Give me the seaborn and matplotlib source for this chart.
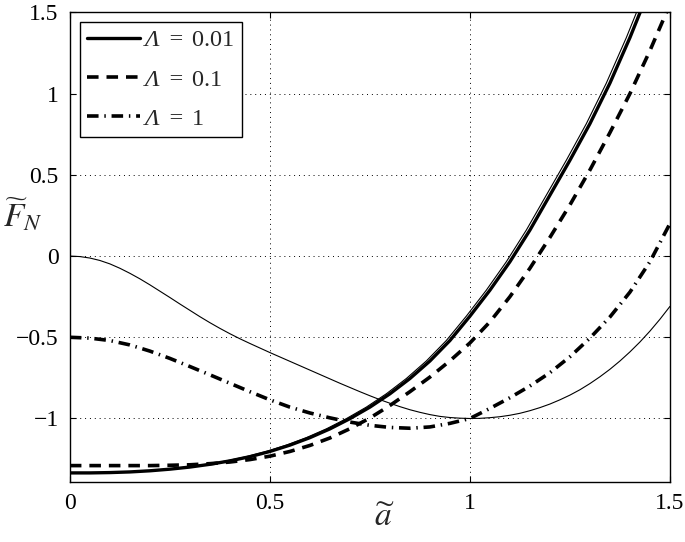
import seaborn as sns
import pandas as pd
import numpy as np
import matplotlib
matplotlib.use("Agg")
import matplotlib.pyplot as plt

sns.set_style("white")
plt.rcParams['font.family'] = ['Liberation Serif', 'DejaVu Serif']
plt.rcParams['mathtext.fontset'] = 'stix'
# used by the legend labels only (italic capital Lambda)
plt.rcParams['mathtext.rm'] = 'Liberation Serif:italic'
plt.rcParams['mathtext.it'] = 'Liberation Serif:italic'

# a~ values (step 0.05)
a = [0.00, 0.05, 0.10, 0.15, 0.20, 0.25, 0.30, 0.35, 0.40, 0.45,
     0.50, 0.55, 0.60, 0.65, 0.70, 0.75, 0.80, 0.85, 0.90, 0.95,
     1.00, 1.05, 1.10, 1.15, 1.20, 1.25, 1.30, 1.35, 1.40, 1.45, 1.50]

# thin reference curve (no legend entry), read at a finer step 0.025
a_thin = [i * 0.025 for i in range(61)]
f_thin = [0.000, -0.003, -0.012, -0.027, -0.048, -0.075, -0.106, -0.140, -0.177, -0.216,
          -0.255, -0.295, -0.334, -0.373, -0.410, -0.445, -0.478, -0.509, -0.538, -0.566,
          -0.594, -0.621, -0.648, -0.675, -0.702, -0.729, -0.756, -0.783, -0.809, -0.835,
          -0.860, -0.884, -0.906, -0.927, -0.946, -0.962, -0.976, -0.987, -0.994, -0.998,
          -1.000, -0.999, -0.995, -0.989, -0.980, -0.968, -0.952, -0.933, -0.911, -0.885,
          -0.856, -0.823, -0.785, -0.743, -0.697, -0.646, -0.590, -0.529, -0.462, -0.389,
          -0.310]

# Lambda = 0.01
f_001 = [-1.335, -1.335, -1.333, -1.329, -1.322, -1.312, -1.299, -1.282, -1.261, -1.235,
         -1.203, -1.164, -1.118, -1.064, -1.001, -0.930, -0.848, -0.754, -0.646, -0.520,
         -0.370, -0.210, -0.035, 0.160, 0.375, 0.590, 0.815, 1.065, 1.345, 1.650, 1.980]

# Lambda = 0.1
f_01 = [-1.290, -1.290, -1.290, -1.290, -1.290, -1.288, -1.285, -1.278, -1.268, -1.253,
        -1.232, -1.203, -1.166, -1.120, -1.063, -0.997, -0.920, -0.835, -0.745, -0.645,
        -0.535, -0.405, -0.250, -0.075, 0.115, 0.315, 0.530, 0.760, 1.000, 1.265, 1.550]

# Lambda = 1
f_1 = [-0.500, -0.505, -0.520, -0.547, -0.585, -0.630, -0.680, -0.731, -0.783, -0.835,
       -0.885, -0.930, -0.966, -0.996, -1.022, -1.042, -1.055, -1.060, -1.052, -1.030,
       -1.000, -0.938, -0.872, -0.800, -0.718, -0.620, -0.505, -0.375, -0.222, -0.035, 0.200]

labels = [r'$\Lambda\;=\:$0.01', r'$\Lambda\;=\:$0.1', r'$\Lambda\;=\:$1']

fig = plt.figure(figsize=(6.85, 5.42), dpi=100)
ax = fig.add_axes([0.102, 0.111, 0.876, 0.866])

sns.lineplot(x=a_thin, y=f_thin, ax=ax, color='k', lw=0.8, label='_nolegend_')
sns.lineplot(x=a, y=f_001, ax=ax, color='k', lw=2.4, label=labels[0])
# the thick solid curve is drawn doubled in the original
sns.lineplot(x=np.array(a) - 0.009, y=f_001, ax=ax, color='k', lw=0.8, label='_nolegend_')
sns.lineplot(x=a, y=f_01, ax=ax, color='k', lw=2.6, linestyle=(0, (3.2, 2.2)), label=labels[1])
sns.lineplot(x=a, y=f_1, ax=ax, color='k', lw=2.6, linestyle=(0, (3.2, 1.6, 0.4, 1.6)), label=labels[2])

ax.set_xlim(0, 1.5)
ax.set_ylim(-1.39, 1.5)
ax.set_xticks([0, 0.5, 1, 1.5])
ax.set_xticklabels(['0', '0.5', '1', '1.5'])
ax.set_yticks([-1, -0.5, 0, 0.5, 1, 1.5])
ax.set_yticklabels(['\u22121', '\u22120.5', '0', '0.5', '1', '1.5'])
ax.grid(True, color='k', linestyle=(0, (1, 4)), linewidth=0.7)
ax.tick_params(direction='in', length=4, width=0.8, labelsize=17,
               top=True, right=True, bottom=True, left=True, pad=8, colors='k')
for s in ax.spines.values():
    s.set_color('k')
    s.set_linewidth(1.0)

ax.set_xlabel(r'$\widetilde{a}$', fontsize=24)
ax.xaxis.set_label_coords(0.525, -0.045)
ax.set_ylabel(r'$\widetilde{F}_N$', fontsize=24, rotation=0, va='center', ha='center')
ax.yaxis.set_label_coords(-0.079, 0.569)

leg = ax.legend(loc='upper left', fontsize=17.5, handlelength=2.2, handletextpad=0.1,
                borderpad=0.3, labelspacing=0.7, fancybox=False, edgecolor='k',
                framealpha=1, borderaxespad=0.4)
leg.get_frame().set_linewidth(1.0)
for t in leg.get_texts():
    t.set_math_fontfamily('custom')

fig.savefig("out.png", dpi=100)
